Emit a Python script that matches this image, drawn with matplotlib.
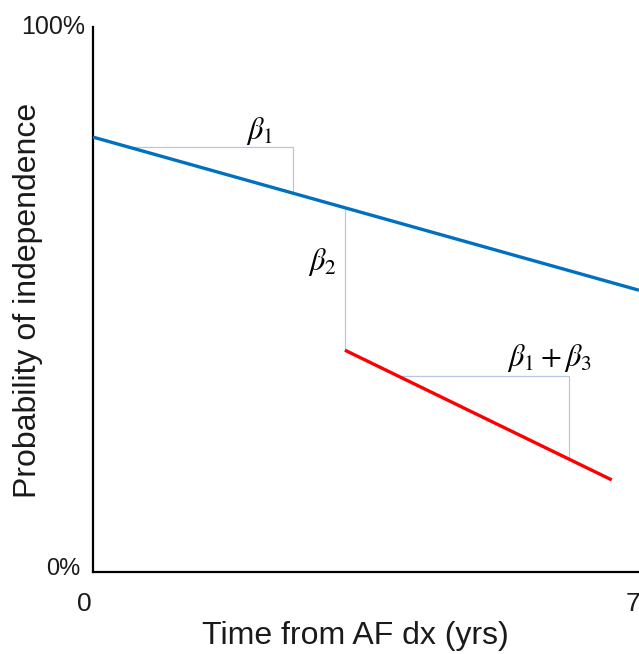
import matplotlib.pyplot as plt

plt.rcParams['font.family'] = ['Liberation Sans', 'DejaVu Sans']
plt.rcParams['mathtext.fontset'] = 'stix'

# reference line (blue) and shifted line (red), x in years, y as fraction
blue_x = [0.0, 7.0]
blue_y = [0.798, 0.517]
red_x = [3.23, 6.65]
red_y = [0.407, 0.169]

# slope triangle helpers
b1_corner_x = 2.56
b1_top_y = 0.780
b2_x = 3.23
b13_corner_x = 6.10
b13_top_y = 0.360

y_tick_vals = [0, 1]
y_tick_text = ['0%', '100%']
x_tick_vals = [0, 7]
x_tick_text = ['0', '7']

def on_line(xs, ys, x):
    k = (ys[1] - ys[0]) / (xs[1] - xs[0])
    return ys[0] + k * (x - xs[0])

def x_on_line(xs, ys, y):
    k = (ys[1] - ys[0]) / (xs[1] - xs[0])
    return xs[0] + (y - ys[0]) / k

fig = plt.figure(figsize=(6.39, 6.54), dpi=100)
ax = fig.add_axes([93 / 639, 1 - 572 / 654, 1 - 93 / 639, (572 - 27) / 654])
ax.set_xlim(0, 7)
ax.set_ylim(0, 1)

thin = '#b4c7e7'
# beta1 triangle on blue line
x0 = x_on_line(blue_x, blue_y, b1_top_y)
ax.plot([x0, b1_corner_x, b1_corner_x],
        [b1_top_y, b1_top_y, on_line(blue_x, blue_y, b1_corner_x)],
        color=thin, lw=0.9, zorder=1)
# beta2 vertical gap
ax.plot([b2_x, b2_x], [on_line(blue_x, blue_y, b2_x), red_y[0]],
        color=thin, lw=0.9, zorder=1)
# beta1+beta3 triangle on red line
x1 = x_on_line(red_x, red_y, b13_top_y)
ax.plot([x1, b13_corner_x, b13_corner_x],
        [b13_top_y, b13_top_y, on_line(red_x, red_y, b13_corner_x)],
        color=thin, lw=0.9, zorder=1)

ax.plot(blue_x, blue_y, color='#0070c0', lw=2.4, solid_capstyle='butt', zorder=3)
ax.plot(red_x, red_y, color='#ff0000', lw=2.4, solid_capstyle='butt', zorder=3)

ax.text(2.13, 0.81, r'$\beta_1$', fontsize=22, ha='center', va='center')
ax.text(2.94, 0.569, r'$\beta_2$', fontsize=22, ha='center', va='center')
ax.text(5.85, 0.393, r'$\beta_1+\beta_3$', fontsize=22, ha='center', va='center')

for s in ['top', 'right']:
    ax.spines[s].set_visible(False)
for s in ['left', 'bottom']:
    ax.spines[s].set_linewidth(1.6)
ax.set_xticks([])
ax.set_yticks([])

tc = '#1a1a1a'
ax.annotate(y_tick_text[1], (0, y_tick_vals[1]), xytext=(-6, 0), textcoords='offset points',
            ha='right', va='center', fontsize=18, color=tc)
ax.annotate(y_tick_text[0], (0, y_tick_vals[0]), xytext=(-9, 2), textcoords='offset points',
            ha='right', va='center', fontsize=17, color=tc)
ax.annotate(x_tick_text[0], (x_tick_vals[0], 0), xytext=(-6, -23), textcoords='offset points',
            ha='center', va='center', fontsize=19, color=tc, annotation_clip=False)
ax.annotate(x_tick_text[1], (x_tick_vals[1], 0), xytext=(-4, -23), textcoords='offset points',
            ha='center', va='center', fontsize=19, color=tc, annotation_clip=False)

fig.text(355 / 639, 1 - 636 / 654, 'Time from AF dx (yrs)', ha='center', va='center',
         fontsize=23, color=tc)
fig.text(28 / 639, 1 - 300 / 654, 'Probability of independence', ha='center', va='center',
         rotation=90, fontsize=23, color=tc)

fig.savefig('out.png', dpi=100)
